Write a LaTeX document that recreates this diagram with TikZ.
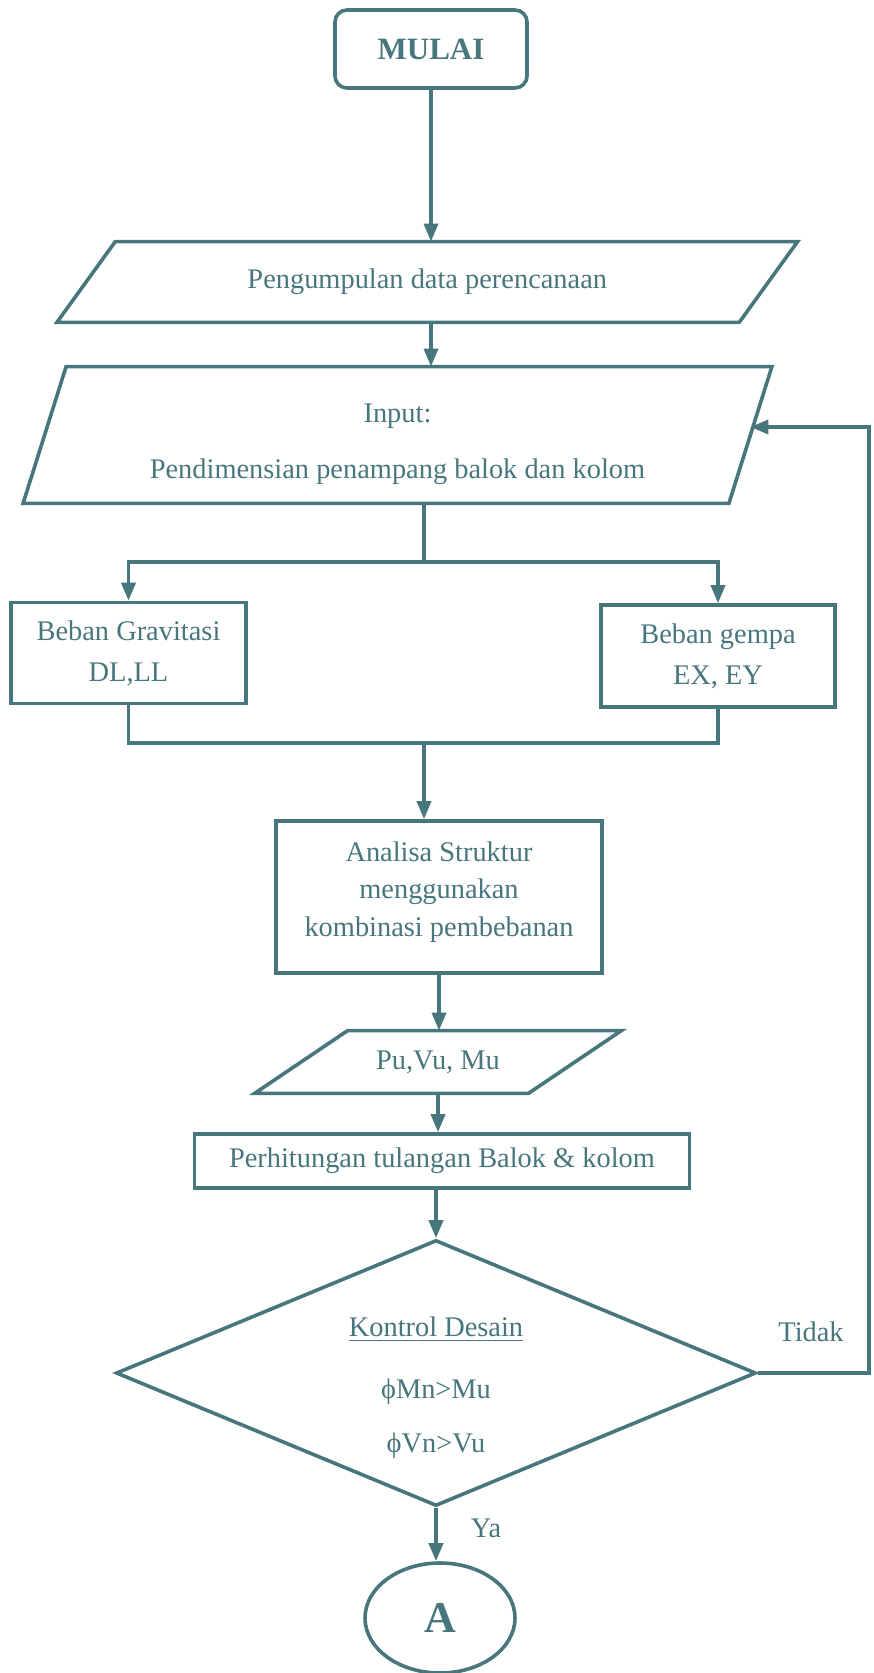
\documentclass[tikz,border=0pt]{standalone}
\usepackage{fontspec}
\setmainfont{Liberation Serif}
\usetikzlibrary{shapes.geometric,arrows.meta}
\definecolor{garis}{RGB}{72,118,125}
\begin{document}
\begin{tikzpicture}[x=0.5pt,y=-0.5pt,
        every node/.style={font=\fontsize{14.2}{17}\selectfont,text=garis},
        kotak/.style={draw=garis,line width=1.8pt,fill=white,align=center,inner sep=0pt},
        isi/.style={align=center,inner sep=0pt},
        jalur/.style={draw=garis,line width=1.8pt},
        panah/.style={jalur,-{Triangle[length=9pt,width=7pt]}}]
        \useasboundingbox (0,0) rectangle (873,1673);
        % bagan alir
        \node[kotak,rounded corners=6pt,minimum width=96pt,minimum height=39pt,
            font=\fontsize{15.5}{18}\selectfont\bfseries] (mulai) at (431,49) {MULAI};
        \node[isi,minimum width=340.75pt,minimum height=40pt] (data) at (427.25,282) {Pengumpulan data perencanaan};
        \node[isi,minimum width=352.5pt,minimum height=68pt] (input) at (397.5,435)
            {\rule{0pt}{18.5pt}Input:\\[11pt]Pendimensian penampang balok dan kolom};
        \node[kotak,minimum width=117.5pt,minimum height=50.5pt] (grav) at (128.5,653) {Beban Gravitasi\\[3.5pt]DL,LL};
        \node[kotak,minimum width=117pt,minimum height=51pt] (gempa) at (718,656) {Beban gempa\\[3.5pt]EX, EY};
        \node[kotak,minimum width=163pt,minimum height=76pt] (analisa) at (439,897)
            {Analisa Struktur\\[1.75pt]menggunakan\\[1.75pt]kombinasi pembebanan\rule[-8pt]{0pt}{8pt}};
        \node[isi,minimum width=136.5pt,minimum height=31pt] (gaya) at (438,1062) {Pu,Vu, Mu};
        \node[kotak,minimum width=247.5pt,minimum height=27pt] (tulangan) at (442,1161) {Perhitungan tulangan Balok \& kolom};
        \node[kotak,diamond,minimum width=320pt,minimum height=133pt] (kontrol) at (436,1373) {};
        \node[isi] (syarat) at (436,1388) {\underline{Kontrol Desain}\\[14pt]ϕMn>Mu\\[10pt]ϕVn>Vu};
        \node[kotak,ellipse,minimum width=75pt,minimum height=55pt,
            font=\fontsize{22}{26}\selectfont\bfseries] (hubung) at (440,1618) {A};
        \node (tidak) at (811,1332) {Tidak};
        \node (ya) at (486,1528) {Ya};
        % jajaran genjang
        \draw[jalur] ([xshift=14.6pt]data.north west) -- ([xshift=14.6pt]data.north east)
            -- ([xshift=-14.6pt]data.south east) -- ([xshift=-14.6pt]data.south west) -- cycle;
        \draw[jalur] ([xshift=10.75pt]input.north west) -- ([xshift=10.75pt]input.north east)
            -- ([xshift=-10.75pt]input.south east) -- ([xshift=-10.75pt]input.south west) -- cycle;
        \draw[jalur] ([xshift=23.25pt]gaya.north west) -- ([xshift=23.25pt]gaya.north east)
            -- ([xshift=-23.25pt]gaya.south east) -- ([xshift=-23.25pt]gaya.south west) -- cycle;
        \coordinate (pisah) at (424,562);
        \coordinate (gabung) at (424,743);
        \coordinate (balik) at (869,427);
        % penghubung
        \draw[panah] (mulai.south) -- (mulai.south |- data.north);
        \draw[panah] (data.south -| mulai) -- (mulai |- input.north);
        \draw[jalur] (input.south -| pisah) -- (pisah);
        \draw[panah] (pisah) -| (grav.north);
        \draw[panah] (pisah) -| (gempa.north);
        \draw[jalur] (grav.south) |- (gabung) -| (gempa.south);
        \draw[panah] (gabung) -- (gabung |- analisa.north);
        \draw[panah] (analisa.south) -- (analisa.south |- gaya.north);
        \draw[panah] (gaya.south) -- (gaya.south |- tulangan.north);
        \draw[panah] (tulangan.south -| kontrol) -- (kontrol.north);
        \draw[panah] (kontrol.south) -- (kontrol.south |- hubung.north);
        \draw[panah] (kontrol.east) -| (balik) -- (balik -| input.east);
\end{tikzpicture}
\end{document}
